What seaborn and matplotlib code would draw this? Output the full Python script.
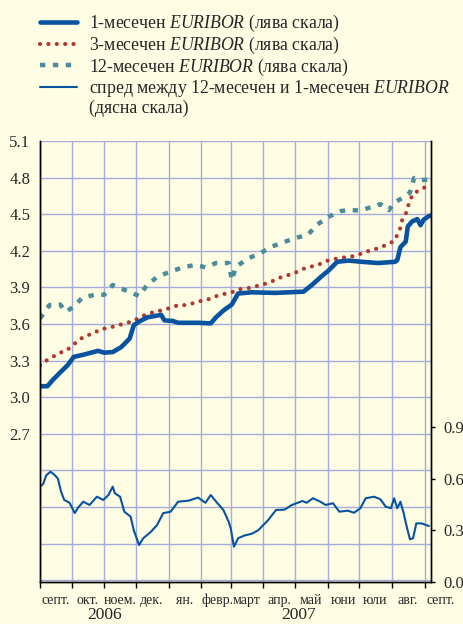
import matplotlib
matplotlib.use("Agg")
import matplotlib.dates as mdates
import matplotlib.pyplot as plt
import pandas as pd
import seaborn as sns
from matplotlib.lines import Line2D
from matplotlib.ticker import FixedLocator, NullFormatter

# 1-month EURIBOR (left scale)
one_m_dates = ["2006-09-01", "2006-09-08", "2006-09-13", "2006-09-21", "2006-09-27", "2006-10-03",
               "2006-10-13", "2006-10-26", "2006-11-01", "2006-11-09", "2006-11-17", "2006-11-25",
               "2006-11-29", "2006-12-04", "2006-12-12", "2006-12-25", "2006-12-28", "2007-01-05",
               "2007-01-10", "2007-01-29", "2007-02-10", "2007-02-15", "2007-02-22", "2007-03-02",
               "2007-03-08", "2007-03-21", "2007-04-12", "2007-05-09", "2007-05-17", "2007-05-26",
               "2007-06-02", "2007-06-10", "2007-06-21", "2007-07-03", "2007-07-19", "2007-08-04",
               "2007-08-06", "2007-08-09", "2007-08-14", "2007-08-16", "2007-08-20", "2007-08-25",
               "2007-08-28", "2007-08-31", "2007-09-05", "2007-09-07"]
one_m_vals = [3.09, 3.09, 3.14, 3.21, 3.26, 3.33,
              3.35, 3.38, 3.365, 3.37, 3.41, 3.48,
              3.59, 3.62, 3.655, 3.675, 3.63, 3.625,
              3.61, 3.61, 3.605, 3.655, 3.71, 3.76,
              3.85, 3.86, 3.855, 3.865, 3.92, 3.99,
              4.04, 4.11, 4.12, 4.11, 4.10, 4.11,
              4.125, 4.23, 4.275, 4.40, 4.44, 4.46,
              4.41, 4.455, 4.485, 4.49]

# 3-month EURIBOR (left scale)
three_m_dates = ["2006-09-01", "2006-09-07", "2006-09-13", "2006-09-20", "2006-09-26", "2006-10-01",
                 "2006-10-07", "2006-10-13", "2006-10-21", "2006-10-28", "2006-11-05", "2006-11-13",
                 "2006-11-20", "2006-11-27", "2006-12-04", "2006-12-11", "2006-12-19", "2006-12-27",
                 "2007-01-04", "2007-01-10", "2007-01-17", "2007-01-24", "2007-02-01", "2007-02-07",
                 "2007-02-14", "2007-02-22", "2007-03-02", "2007-03-09", "2007-03-16", "2007-03-25",
                 "2007-04-01", "2007-04-08", "2007-04-15", "2007-04-22", "2007-04-30", "2007-05-08",
                 "2007-05-16", "2007-05-23", "2007-05-30", "2007-06-06", "2007-06-12", "2007-06-20",
                 "2007-06-28", "2007-07-06", "2007-07-13", "2007-07-20", "2007-07-27", "2007-08-03",
                 "2007-08-06", "2007-08-09", "2007-08-11", "2007-08-15", "2007-08-17", "2007-08-21",
                 "2007-08-28", "2007-09-02", "2007-09-06"]
three_m_vals = [3.26, 3.30, 3.33, 3.365, 3.38, 3.42,
                3.46, 3.50, 3.52, 3.555, 3.57, 3.585,
                3.605, 3.62, 3.65, 3.68, 3.70, 3.715,
                3.735, 3.755, 3.755, 3.77, 3.79, 3.80,
                3.825, 3.845, 3.86, 3.885, 3.89, 3.91,
                3.925, 3.945, 3.975, 3.995, 4.015, 4.05,
                4.07, 4.085, 4.115, 4.13, 4.14, 4.15,
                4.16, 4.19, 4.205, 4.225, 4.25, 4.28,
                4.33, 4.39, 4.465, 4.52, 4.59, 4.67,
                4.70, 4.725, 4.75]

# 12-month EURIBOR (left scale)
twelve_m_dates = ["2006-09-01", "2006-09-10", "2006-09-20", "2006-09-26", "2006-10-04", "2006-10-11",
                  "2006-10-23", "2006-11-01", "2006-11-09", "2006-11-17", "2006-11-26", "2006-12-04",
                  "2006-12-12", "2006-12-22", "2007-01-03", "2007-01-13", "2007-01-26", "2007-02-05",
                  "2007-02-15", "2007-02-27", "2007-03-02", "2007-03-06", "2007-03-18", "2007-03-29",
                  "2007-04-09", "2007-04-20", "2007-05-01", "2007-05-13", "2007-05-22", "2007-06-02",
                  "2007-06-13", "2007-06-21", "2007-07-02", "2007-07-11", "2007-07-21", "2007-07-29",
                  "2007-08-03", "2007-08-10", "2007-08-18", "2007-08-22", "2007-08-29", "2007-09-04",
                  "2007-09-07"]
twelve_m_vals = [3.645, 3.755, 3.76, 3.70, 3.75, 3.815,
                 3.84, 3.84, 3.92, 3.89, 3.86, 3.83,
                 3.925, 3.99, 4.03, 4.06, 4.085, 4.065,
                 4.10, 4.10, 3.96, 4.07, 4.14, 4.18,
                 4.235, 4.27, 4.305, 4.33, 4.415, 4.48,
                 4.525, 4.535, 4.53, 4.555, 4.583, 4.533,
                 4.592, 4.63, 4.678, 4.797, 4.78, 4.783,
                 4.77]

# spread 12M - 1M (right scale)
spread_dates = ["2006-09-01", "2006-09-04", "2006-09-07", "2006-09-11", "2006-09-15", "2006-09-18",
                "2006-09-21", "2006-09-24", "2006-09-29", "2006-10-04", "2006-10-07", "2006-10-12",
                "2006-10-18", "2006-10-25", "2006-10-31", "2006-11-05", "2006-11-09", "2006-11-11",
                "2006-11-16", "2006-11-20", "2006-11-26", "2006-11-29", "2006-12-04", "2006-12-08",
                "2006-12-15", "2006-12-21", "2006-12-27", "2007-01-03", "2007-01-10", "2007-01-20",
                "2007-01-29", "2007-02-05", "2007-02-10", "2007-02-16", "2007-02-22", "2007-02-27",
                "2007-03-01", "2007-03-04", "2007-03-08", "2007-03-14", "2007-03-21", "2007-03-27",
                "2007-04-05", "2007-04-13", "2007-04-21", "2007-04-28", "2007-05-08", "2007-05-12",
                "2007-05-18", "2007-05-25", "2007-05-30", "2007-06-06", "2007-06-12", "2007-06-20",
                "2007-06-26", "2007-07-02", "2007-07-07", "2007-07-15", "2007-07-21", "2007-07-26",
                "2007-07-31", "2007-08-03", "2007-08-06", "2007-08-09", "2007-08-12", "2007-08-15",
                "2007-08-18", "2007-08-21", "2007-08-24", "2007-08-29", "2007-09-05"]
spread_vals = [0.553, 0.569, 0.62, 0.64, 0.62, 0.60,
               0.524, 0.476, 0.46, 0.40, 0.43, 0.466,
               0.447, 0.495, 0.476, 0.505, 0.553, 0.515,
               0.495, 0.408, 0.379, 0.30, 0.215, 0.254,
               0.29, 0.33, 0.40, 0.408, 0.466, 0.472,
               0.49, 0.46, 0.505, 0.46, 0.418, 0.35,
               0.31, 0.205, 0.254, 0.27, 0.28, 0.30,
               0.356, 0.418, 0.42, 0.447, 0.47, 0.46,
               0.486, 0.466, 0.447, 0.457, 0.408, 0.414,
               0.402, 0.428, 0.486, 0.495, 0.48, 0.437,
               0.428, 0.486, 0.428, 0.466, 0.40, 0.32,
               0.248, 0.254, 0.34, 0.34, 0.325]

month_names = ["септ.", "окт.", "ноем.", "дек.", "ян.", "февр.", "март",
               "апр.", "май", "юни", "юли", "авг.", "септ."]
month_starts = pd.date_range("2006-09-01", "2007-09-01", freq="MS")
left_ticks = [1.5, 1.8, 2.1, 2.4, 2.7, 3.0, 3.3, 3.6, 3.9, 4.2, 4.5, 4.8, 5.1]
right_ticks = [0.0, 0.3, 0.6, 0.9]

BG = "#fffde3"
GRID = "#a4acdc"
BLUE = "#0753a0"
RED = "#b2382f"
TEAL = "#4b8c9b"


def main():
    sns.set_theme(style="white")
    plt.rcParams["font.family"] = ["Liberation Serif", "DejaVu Serif"]
    plt.rcParams["mathtext.fontset"] = "custom"
    plt.rcParams["mathtext.rm"] = "Liberation Serif"
    plt.rcParams["mathtext.it"] = "Liberation Serif:italic"

    one_df = pd.DataFrame({"date": pd.to_datetime(one_m_dates), "rate": one_m_vals})
    three_df = pd.DataFrame({"date": pd.to_datetime(three_m_dates), "rate": three_m_vals})
    twelve_df = pd.DataFrame({"date": pd.to_datetime(twelve_m_dates), "rate": twelve_m_vals})
    spread_df = pd.DataFrame({"date": pd.to_datetime(spread_dates), "spread": spread_vals})

    fig = plt.figure(figsize=(4.64, 6.24), dpi=100, facecolor=BG)
    ax = fig.add_axes([0.0862, 0.0673, 0.8427, 0.7067])
    ax.set_facecolor(BG)
    ax2 = ax.twinx()

    sns.lineplot(ax=ax, data=twelve_df, x="date", y="rate", color=TEAL, lw=3.2,
                 linestyle=(0, (1.2, 1.7)), dash_capstyle="butt", legend=False)
    sns.lineplot(ax=ax, data=three_df, x="date", y="rate", color=RED, lw=3.0,
                 linestyle=(0, (0.01, 2.0)), dash_capstyle="round", legend=False)
    sns.lineplot(ax=ax, data=one_df, x="date", y="rate", color=BLUE, lw=3.3, legend=False)
    sns.lineplot(ax=ax2, data=spread_df, x="date", y="spread", color=BLUE, lw=1.5, legend=False)

    x0, x1 = pd.Timestamp("2006-09-01"), pd.Timestamp("2007-09-07")
    ax.set_xlim(x0, x1)
    ax.set_ylim(1.485, 5.1)
    ax2.set_ylim(0, 2.559)

    # left axis: grid every 0.3, labels from 2.7 up
    ax.yaxis.set_major_locator(FixedLocator(left_ticks))
    ax.set_yticklabels([f"{t:.1f}" if t >= 2.7 else "" for t in left_ticks])
    ax.tick_params(axis="y", length=0, pad=7, labelsize=12)

    # right axis
    ax2.yaxis.set_major_locator(FixedLocator(right_ticks))
    ax2.set_yticklabels([f"{t:.1f}" for t in right_ticks])
    ax2.tick_params(axis="y", length=3, width=1, color="black", direction="out", pad=6, labelsize=12)

    # months on x axis
    ax.xaxis.set_major_locator(FixedLocator(mdates.date2num(month_starts)))
    ax.xaxis.set_major_formatter(NullFormatter())
    ax.tick_params(axis="x", length=4, width=1, color="black", direction="out", bottom=True)
    for start, name in zip(month_starts, month_names):
        ax.annotate(name, xy=(start + pd.Timedelta(days=15), 0), xycoords=("data", "axes fraction"),
                    xytext=(0, -16), textcoords="offset points", ha="center", va="baseline",
                    fontsize=10, annotation_clip=False)
    for year, pos in [("2006", "2006-11-01"), ("2007", "2007-05-04")]:
        ax.annotate(year, xy=(pd.Timestamp(pos), 0), xycoords=("data", "axes fraction"),
                    xytext=(0, -26.5), textcoords="offset points", ha="center", va="baseline",
                    fontsize=12.5, annotation_clip=False)

    ax.grid(True, color=GRID, lw=1.0)
    ax.set_axisbelow(True)
    ax.set_xlabel("")
    ax.set_ylabel("")
    ax2.set_ylabel("")

    for a in (ax, ax2):
        a.spines["top"].set_visible(False)
        for side in ("left", "right", "bottom"):
            a.spines[side].set_color("black")
            a.spines[side].set_linewidth(1.0)

    handles = [
        Line2D([], [], color=BLUE, lw=3.3),
        Line2D([], [], color=RED, lw=3.0, linestyle=(0, (0.01, 2.0)), dash_capstyle="round"),
        Line2D([], [], color=TEAL, lw=3.2, linestyle=(0, (1.2, 1.7))),
        Line2D([], [], color=BLUE, lw=1.5),
        Line2D([], [], color="none", lw=0),
    ]
    labels = [
        r"1-месечен $\mathit{EURIBOR}$ (лява скала)",
        r"3-месечен $\mathit{EURIBOR}$ (лява скала)",
        r"12-месечен $\mathit{EURIBOR}$ (лява скала)",
        r"спред между 12-месечен и 1-месечен $\mathit{EURIBOR}$",
        "(дясна скала)",
    ]
    fig.legend(handles, labels, loc="upper left", bbox_to_anchor=(0.0862, 0.979),
               bbox_transform=fig.transFigure, frameon=False, fontsize=12.8,
               handlelength=2.1, handletextpad=0.65, labelspacing=0.03,
               borderpad=0, borderaxespad=0)

    fig.savefig("out.png", dpi=100, facecolor=BG)
    plt.close(fig)


if __name__ == "__main__":
    main()
